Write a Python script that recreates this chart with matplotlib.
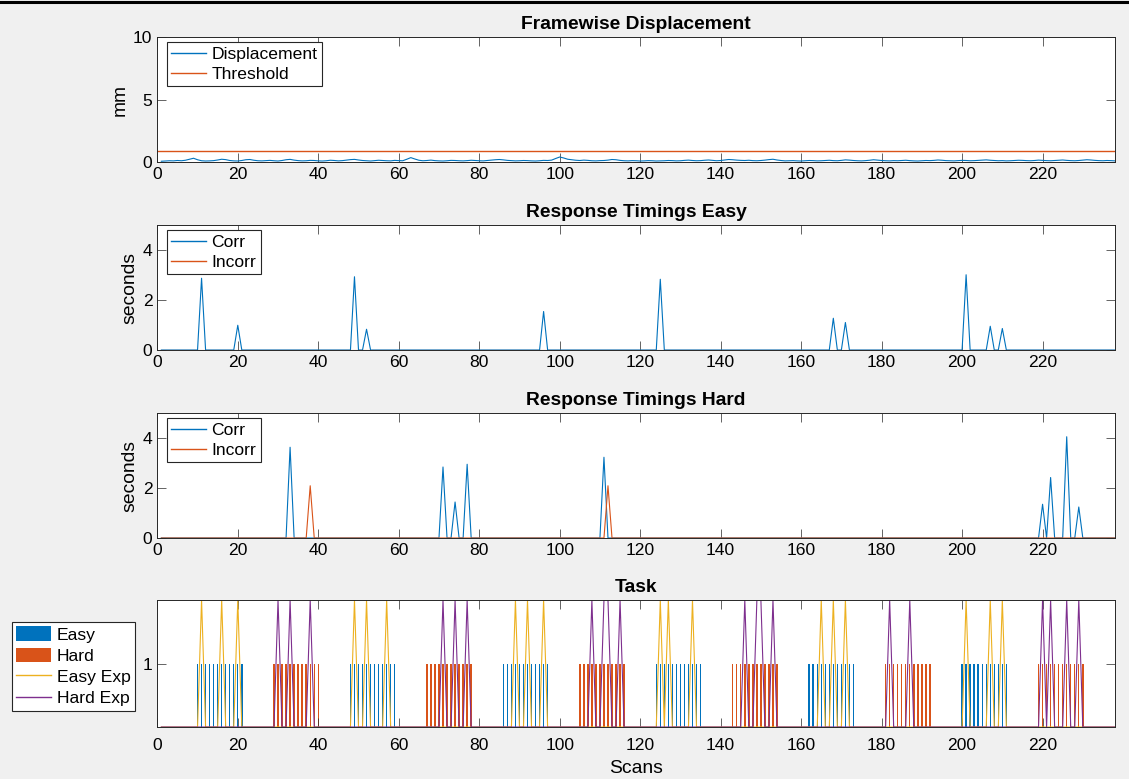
import matplotlib
matplotlib.use("Agg")
import matplotlib.pyplot as plt
from matplotlib.lines import Line2D
import numpy as np

plt.rcParams['font.family'] = ['Liberation Sans', 'DejaVu Sans']

# data
n_scans = 238
scans = np.arange(1, n_scans + 1)

displacement = [
    0.06, 0.08, 0.10, 0.09, 0.12, 0.10, 0.14, 0.22, 0.30, 0.18, 0.10, 0.08, 0.09, 0.11, 0.16, 0.22, 0.19, 0.12, 0.09, 0.08,
    0.12, 0.18, 0.20, 0.14, 0.10, 0.09, 0.11, 0.13, 0.10, 0.08, 0.12, 0.18, 0.21, 0.15, 0.11, 0.09, 0.10, 0.13, 0.12, 0.09,
    0.08, 0.10, 0.14, 0.12, 0.09, 0.11, 0.15, 0.19, 0.21, 0.16, 0.12, 0.10, 0.08, 0.11, 0.14, 0.12, 0.10, 0.09, 0.13, 0.11,
    0.10, 0.22, 0.35, 0.24, 0.14, 0.10, 0.12, 0.15, 0.11, 0.09, 0.08, 0.10, 0.13, 0.12, 0.10, 0.09, 0.11, 0.14, 0.12, 0.10,
    0.09, 0.12, 0.15, 0.18, 0.20, 0.17, 0.13, 0.11, 0.09, 0.10, 0.12, 0.11, 0.09, 0.08, 0.10, 0.13, 0.12, 0.15, 0.28, 0.40,
    0.32, 0.22, 0.18, 0.14, 0.12, 0.15, 0.13, 0.10, 0.09, 0.11, 0.12, 0.15, 0.20, 0.18, 0.13, 0.10, 0.09, 0.11, 0.10, 0.08,
    0.09, 0.11, 0.10, 0.08, 0.09, 0.10, 0.12, 0.11, 0.09, 0.10, 0.13, 0.15, 0.12, 0.10, 0.11, 0.14, 0.16, 0.13, 0.10, 0.12,
    0.16, 0.20, 0.18, 0.15, 0.13, 0.12, 0.14, 0.11, 0.10, 0.12, 0.15, 0.19, 0.22, 0.16, 0.12, 0.09, 0.10, 0.11, 0.09, 0.08,
    0.10, 0.12, 0.11, 0.09, 0.10, 0.12, 0.14, 0.11, 0.10, 0.13, 0.17, 0.15, 0.12, 0.10, 0.09, 0.11, 0.14, 0.18, 0.15, 0.12,
    0.10, 0.09, 0.11, 0.10, 0.12, 0.14, 0.11, 0.09, 0.08, 0.10, 0.12, 0.11, 0.13, 0.16, 0.14, 0.11, 0.10, 0.09, 0.11, 0.13,
    0.12, 0.10, 0.11, 0.13, 0.15, 0.17, 0.14, 0.12, 0.10, 0.11, 0.09, 0.10, 0.12, 0.14, 0.13, 0.11, 0.10, 0.12, 0.15, 0.13,
    0.11, 0.10, 0.12, 0.14, 0.16, 0.13, 0.11, 0.10, 0.12, 0.15, 0.18, 0.16, 0.13, 0.11, 0.10, 0.12, 0.11, 0.09,
]
threshold = 0.9

# response times (scan -> seconds)
easy_corr = {11: 2.87, 20: 0.99, 49: 2.93, 52: 0.83, 96: 1.54, 125: 2.83,
             168: 1.27, 171: 1.10, 201: 3.01, 207: 0.95, 210: 0.86}
easy_incorr = {}
hard_corr = {33: 3.63, 71: 2.84, 74: 1.44, 77: 2.95, 111: 3.23,
             220: 1.35, 222: 2.42, 226: 4.05, 229: 1.24}
hard_incorr = {38: 2.09, 112: 2.09}

# task blocks (first scan, last scan)
easy_blocks = [(10, 21), (48, 59), (86, 97), (124, 135), (162, 173), (200, 211)]
hard_blocks = [(29, 40), (67, 78), (105, 116), (143, 154), (181, 192), (219, 230)]
easy_exp = [11, 16, 20, 49, 52, 57, 89, 92, 96, 125, 127, 133, 165, 168, 171, 201, 207, 210]
hard_exp = [30, 33, 38, 71, 74, 77, 108, 111, 112, 115, 146, 149, 150, 153, 182, 187, 220, 222, 226, 229]
exp_level = 2


def to_series(events):
    s = np.zeros(n_scans)
    for k, v in events.items():
        s[k - 1] = v
    return s


def blocks_to_series(blocks):
    s = np.zeros(n_scans)
    for a, b in blocks:
        s[a - 1:b] = 1
    return s


c_blue = '#0072BD'
c_orange = '#D95319'
c_yellow = '#EDB120'
c_purple = '#7E2F8E'
c_axis = '#262626'
fs = 12.6
fs_t = 13.9
lw = 0.8

W, H = 1129, 779
fig = plt.figure(figsize=(W / 100, H / 100), dpi=100, facecolor='#F0F0F0')
fig.add_artist(Line2D([0, 1], [1 - 1.5 / H, 1 - 1.5 / H], color='black', lw=2.2))


def add_ax(top, bottom):
    ax = fig.add_axes([157.3 / W, 1 - bottom / H, (1115 - 157.3) / W, (bottom - top) / H])
    ax.set_xlim(0, n_scans)
    ax.set_xticks(range(0, 221, 20))
    ax.tick_params(direction='in', top=True, right=True, length=6.5, width=0.5,
                   color=c_axis, labelcolor='black', labelsize=fs, pad=3.5)
    for sp in ax.spines.values():
        sp.set_color(c_axis)
        sp.set_linewidth(0.7)
    return ax


def style_legend(leg):
    fr = leg.get_frame()
    fr.set_edgecolor(c_axis)
    fr.set_linewidth(0.8)
    fr.set_alpha(1)
    for ln in leg.get_lines():
        ln.set_linewidth(1.0)


leg_kw = dict(fontsize=fs, fancybox=False, borderaxespad=0, labelspacing=0.28,
              handlelength=2.0, handletextpad=0.3, borderpad=0.25)

# Framewise displacement
ax1 = add_ax(37, 162)
ax1.plot(scans, displacement, color=c_blue, lw=lw, label='Displacement')
ax1.axhline(threshold, color=c_orange, lw=1.0, label='Threshold')
ax1.set_ylim(0, 10)
ax1.set_yticks([0, 5, 10])
ax1.set_ylabel('mm', fontsize=fs_t, labelpad=3)
ax1.set_title('Framewise Displacement', fontsize=fs_t, fontweight='bold', pad=6)
style_legend(ax1.legend(loc='upper left', bbox_to_anchor=(167 / W, 1 - 42 / H),
                        bbox_transform=fig.transFigure, **leg_kw))

# Response timings easy / hard
for top, bottom, corr, incorr, title in [(225, 350, easy_corr, easy_incorr, 'Response Timings Easy'),
                                         (413, 538, hard_corr, hard_incorr, 'Response Timings Hard')]:
    ax = add_ax(top, bottom)
    ax.plot(scans, to_series(corr), color=c_blue, lw=lw, label='Corr')
    ax.plot(scans, to_series(incorr), color=c_orange, lw=lw, label='Incorr')
    ax.set_ylim(0, 5)
    ax.set_yticks([0, 2, 4])
    ax.set_ylabel('seconds', fontsize=fs_t, labelpad=3)
    ax.set_title(title, fontsize=fs_t, fontweight='bold', pad=6)
    style_legend(ax.legend(loc='upper left', bbox_to_anchor=(167 / W, 1 - (top + 5) / H),
                           bbox_transform=fig.transFigure, **leg_kw))

# Task
ax4 = add_ax(600, 727)
ax4.bar(scans, blocks_to_series(easy_blocks), width=0.35, color=c_blue, linewidth=0, label='Easy')
ax4.bar(scans, blocks_to_series(hard_blocks), width=0.35, color=c_orange, linewidth=0, label='Hard')
ax4.plot(scans, to_series({k: exp_level for k in easy_exp}), color=c_yellow, lw=lw, label='Easy Exp')
ax4.plot(scans, to_series({k: exp_level for k in hard_exp}), color=c_purple, lw=lw, label='Hard Exp')
ax4.set_ylim(0, exp_level)
ax4.set_yticks([1])
ax4.tick_params(axis='x', pad=8)
ax4.set_xlabel('Scans', fontsize=fs_t, labelpad=5)
ax4.set_title('Task', fontsize=fs_t, fontweight='bold', pad=6)
h, l = ax4.get_legend_handles_labels()
order = [l.index(name) for name in ['Easy', 'Hard', 'Easy Exp', 'Hard Exp']]
style_legend(fig.legend([h[i] for i in order], [l[i] for i in order], loc='upper left',
                        bbox_to_anchor=(12 / W, 1 - 622 / H), handleheight=0.9, **leg_kw))

fig.savefig('out.png', dpi=100, facecolor=fig.get_facecolor())
